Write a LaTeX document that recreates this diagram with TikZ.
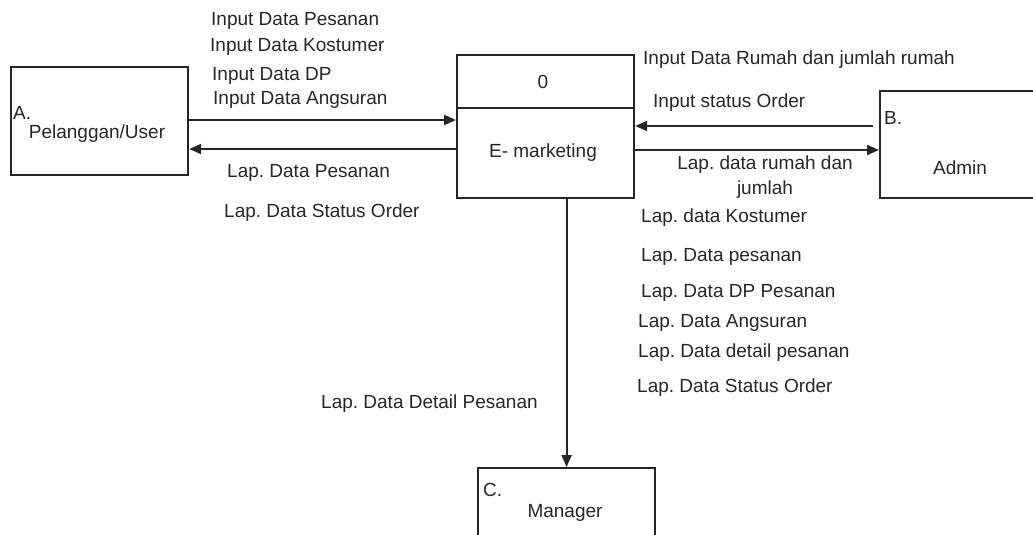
\documentclass[tikz,border=0pt]{standalone}
\usepackage{fontspec}
\setmainfont{Liberation Sans}
\usetikzlibrary{arrows.meta}
\definecolor{ink}{HTML}{262626}
\frenchspacing
\begin{document}
\begin{tikzpicture}[x=1pt,y=1pt,
  box/.style={draw=ink,line width=2.2pt,rectangle,inner sep=0pt},
  lbl/.style={text=ink,inner sep=0pt,font=\fontsize{19}{25}\selectfont},
  arr/.style={draw=ink,line width=2pt,-{Triangle[length=12pt,width=10pt]}}]
\useasboundingbox (0,0) rectangle (1033,-535);
\clip (0,0) rectangle (1033,-535);
% boxes
\node[box,minimum width=177pt,minimum height=108pt,anchor=north west] (A) at (10,-66) {};
\node[box,minimum width=177pt,minimum height=143pt,anchor=north west] (P) at (456,-54) {};
\draw[ink,line width=2.2pt] (P.west |- 0,-108) -- (P.east |- 0,-108);
\node[box,minimum width=200pt,minimum height=107pt,anchor=north west] (Ad) at (879,-90) {};
\node[box,minimum width=177pt,minimum height=120pt,anchor=north west] (M) at (477,-467) {};
% box texts
\node[lbl,anchor=west] (al) at (13,-113) {A.};
\node[lbl] (at) at (97,-134) {Pelanggan/User};
\node[lbl] (p0) at (543,-82) {0};
\node[lbl] (pt) at (543,-153) {E- marketing};
\node[lbl,anchor=west] (bl) at (884,-118) {B.};
\node[lbl] (bt) at (960,-168) {Admin};
\node[lbl,anchor=west] (cl) at (483,-490) {C.};
\node[lbl] (ct) at (565,-513) {Manager};
% connectors
\draw[arr] (A.east |- 0,-120) -- (P.west |- 0,-120);
\draw[arr] (P.west |- 0,-149) -- (A.east |- 0,-149);
\draw[arr,shorten <=6pt] (Ad.west |- 0,-126) -- (P.east |- 0,-126);
\draw[arr] (P.east |- 0,-150) -- (Ad.west |- 0,-150);
\draw[arr] (P.south -| M.north) -- (M.north);
% flow labels
\node[lbl,anchor=west] (t1) at (211,-21) {Input Data Pesanan};
\node[lbl,anchor=west] (t2) at (210,-47) {Input Data Kostumer};
\node[lbl,anchor=west] (t3) at (212,-76) {Input Data DP};
\node[lbl,anchor=west] (t4) at (213,-100) {Input Data Angsuran};
\node[lbl,anchor=west] (t5) at (227,-173) {Lap. Data Pesanan};
\node[lbl,anchor=west] (t6) at (224,-213) {Lap. Data Status Order};
\node[lbl,anchor=west] (t7) at (643,-60) {Input Data Rumah dan jumlah rumah};
\node[lbl,anchor=west] (t8) at (653,-103) {Input status Order};
\node[lbl,align=center] (t9) at (765,-177.5) {Lap. data rumah dan\\jumlah};
\node[lbl,anchor=west] (t10) at (641,-218) {Lap. data Kostumer};
\node[lbl,anchor=west] (t11) at (641,-257) {Lap. Data pesanan};
\node[lbl,anchor=west] (t12) at (641,-293) {Lap. Data DP Pesanan};
\node[lbl,anchor=west] (t13) at (638,-323) {Lap. Data Angsuran};
\node[lbl,anchor=west] (t14) at (638,-353) {Lap. Data detail pesanan};
\node[lbl,anchor=west] (t15) at (637,-388) {Lap. Data Status Order};
\node[lbl,anchor=west] (t16) at (321,-404) {Lap. Data Detail Pesanan};
\end{tikzpicture}
\end{document}
